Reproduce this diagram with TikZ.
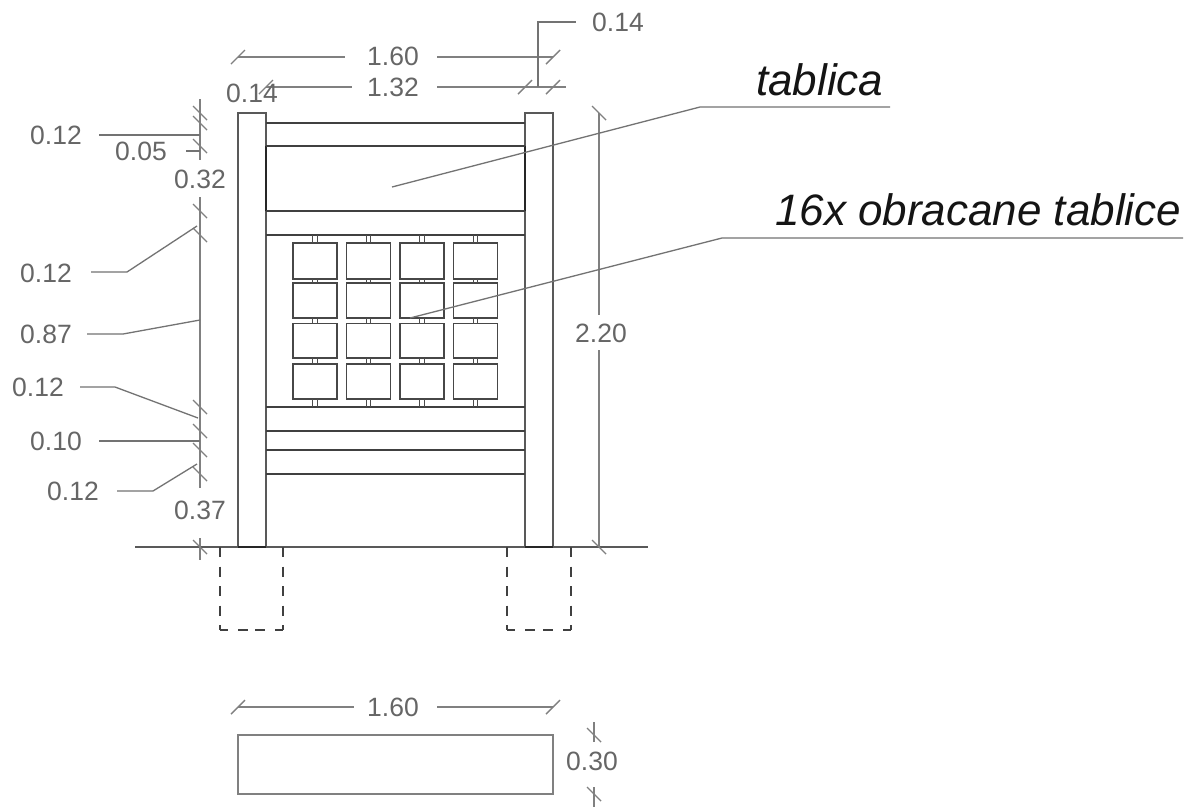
\documentclass[tikz,border=0pt]{standalone}
\usepackage{fontspec}
\setmainfont{Liberation Sans}
\newcommand{\tkB}[2]{\draw[dimline] (#1-7,#2-7) -- (#1+7,#2+7);}
\newcommand{\tkF}[2]{\draw[dimline] (#1-7,#2+7) -- (#1+7,#2-7);}
\tikzset{
  post/.style={draw=black!65,line width=1.7pt},
  rail/.style={draw=black!75,line width=1.4pt},
  panel/.style={draw=black!72,line width=1.6pt},
  dimline/.style={draw=black!50,line width=1.4pt},
  leader/.style={draw=black!55,line width=1.3pt},
  dashline/.style={draw=black!75,line width=1.4pt,dash pattern=on 10pt off 9.5pt},
  dimtext/.style={text=black!60,font=\fontsize{26.5}{26.5}\selectfont,inner sep=0pt},
  bigtext/.style={text=black!92,font=\fontsize{44}{44}\selectfont\itshape,inner sep=0pt,anchor=base west}
}
\begin{document}
\begin{tikzpicture}[x=1pt,y=-1pt]
\useasboundingbox[fill=white] (0,0) rectangle (1192,807);
% posts
\draw[post] (238,547) -- (238,113) -- (266,113) -- (266,547);
\draw[post] (525,547) -- (525,113) -- (553,113) -- (553,547);
% darker stretches of the posts beside the sign
\draw[draw=black!85,line width=1.6pt] (266,146) -- (266,211);
\draw[draw=black!85,line width=1.6pt] (525,146) -- (525,211);
% rails
\foreach \y in {123,146,211,235,407,431,450,474}
  \draw[rail] (266,\y) -- (525,\y);
% ground and footings
\draw[draw=black!65,line width=1.6pt] (135,547) -- (648,547);
\draw[draw=black!85,line width=2pt] (238,547) -- (266,547);
\draw[draw=black!85,line width=2pt] (525,547) -- (553,547);
\foreach \x in {220,283,507,571}
  \draw[dashline] (\x,547) -- (\x,630);
\foreach \xa/\xb in {220/283,507/571}{
  \draw[draw=black!75,line width=1.4pt] (\xa,630) -- (\xa+8,630);
  \draw[draw=black!75,line width=1.4pt] (\xb-8,630) -- (\xb,630);
  \draw[draw=black!75,line width=1.4pt] (\xa+18,630) -- (\xa+28,630);
  \draw[draw=black!75,line width=1.4pt] (\xb-28,630) -- (\xb-18,630);
}
% panels
\foreach \xa in {293,346.5,400,453.5}{
  \foreach \ya/\yb in {243/279,283/318,323.5/358,364/399}
    \draw[panel] (\xa,\ya) rectangle (\xa+44,\yb);
  \foreach \ya/\yb in {235/243,279/283,318/323.5,358/364,399/407}{
    \draw[draw=black!70,line width=1.2pt] (\xa+19.8,\ya) -- (\xa+19.8,\yb);
    \draw[draw=black!70,line width=1.2pt] (\xa+24.2,\ya) -- (\xa+24.2,\yb);
  }
}
% left dimension chain
\draw[dimline] (200,99) -- (200,160);
\draw[dimline] (200,197) -- (200,488);
\draw[dimline] (200,538) -- (200,560);
\foreach \y in {113,123,146,211,235,407,431,450,474,547} { \tkB{200}{\y} }
\draw[leader] (99,135) -- (200,135);
\draw[leader] (186,151) -- (200,151);
\draw[leader] (91,272) -- (127,272) -- (197,226);
\draw[leader] (87,334) -- (123,334) -- (200,320);
\draw[leader] (80,387) -- (115,387) -- (198,418);
\draw[leader] (99,441) -- (200,441);
\draw[leader] (117,491) -- (153,491) -- (197,464);
\node[dimtext] (t012a) at (56,135) {0.12};
\node[dimtext] (t005) at (141,151) {0.05};
\node[dimtext] (t032) at (200,179) {0.32};
\node[dimtext] (t012b) at (46,273) {0.12};
\node[dimtext] (t087) at (46,334) {0.87};
\node[dimtext] (t012c) at (38,387) {0.12};
\node[dimtext] (t010) at (56,441) {0.10};
\node[dimtext] (t012d) at (73,491) {0.12};
\node[dimtext] (t037) at (200,510) {0.37};
% top dimensions
\draw[dimline] (238,57) -- (345,57);
\draw[dimline] (437,57) -- (553,57);
\tkF{238}{57} \tkF{553}{57}
\node[dimtext] (t160a) at (393,56) {1.60};
\draw[dimline] (266,87) -- (352,87);
\draw[dimline] (437,87) -- (566,87);
\tkF{266}{87} \tkF{525}{87} \tkF{553}{87}
\node[dimtext] (t132) at (393,87) {1.32};
\node[dimtext] (t014a) at (252,93) {0.14};
\draw[leader] (538,87) -- (538,22) -- (576,22);
\node[dimtext] (t014b) at (618,22) {0.14};
% right dimension
\draw[dimline] (599,113) -- (599,315);
\draw[dimline] (599,350) -- (599,547);
\tkB{599}{113} \tkB{599}{547}
\node[dimtext] (t220) at (601,333) {2.20};
% annotation leaders
\draw[leader] (392,187) -- (700,107) -- (890,107);
\node[bigtext] (ttab) at (756,95) {tablica};
\draw[leader] (410,318) -- (722,238) -- (1183,238);
\node[bigtext] (tobr) at (775,225) {16x obracane tablice};
% plan
\draw[draw=black!50,line width=1.6pt] (238,735) rectangle (553,794);
\draw[dimline] (238,707) -- (354,707);
\draw[dimline] (437,707) -- (553,707);
\tkF{238}{707} \tkF{553}{707}
\node[dimtext] (t160b) at (393,707) {1.60};
\draw[dimline] (594,722) -- (594,742);
\draw[dimline] (594,787) -- (594,807);
\tkB{594}{735} \tkB{594}{794}
\node[dimtext] (t030) at (592,761) {0.30};
\end{tikzpicture}
\end{document}
